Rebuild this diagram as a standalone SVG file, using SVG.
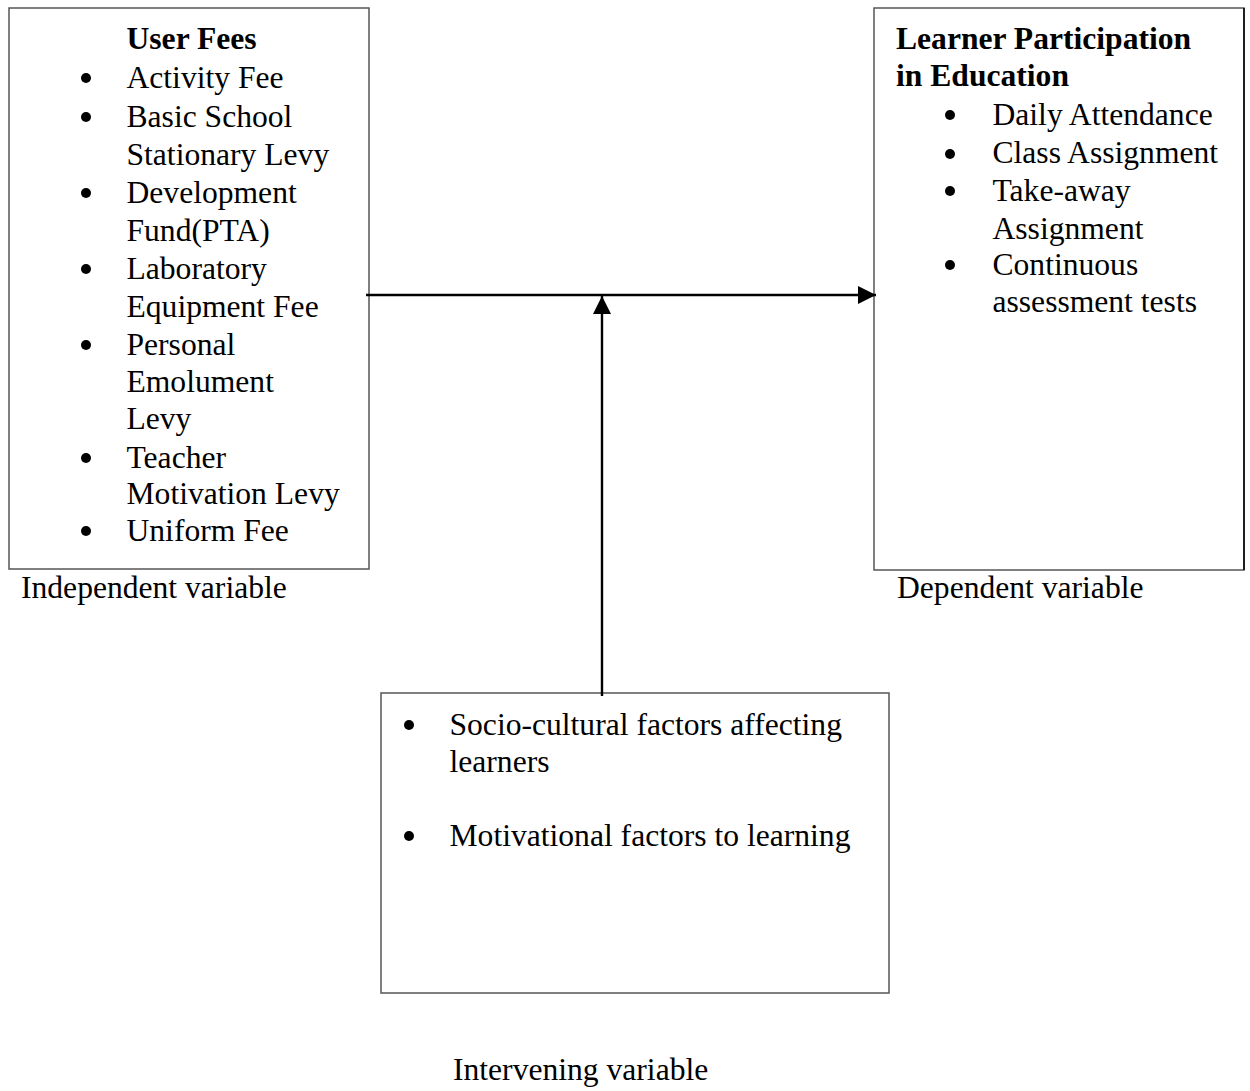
<svg xmlns="http://www.w3.org/2000/svg" width="1250" height="1091" viewBox="0 0 1250 1091">
<style>
  .box { fill: #fff; stroke: #555; stroke-width: 1.5; }
  .t { font-family: "Liberation Serif", "Times New Roman", serif; font-size: 31.6px; fill: #000; }
  .b { font-weight: bold; }
  .bul { fill: #000; }
  .conn { stroke: #000; stroke-width: 2.4; fill: none; }
</style>
<defs>
  <marker id="arr" markerUnits="userSpaceOnUse" markerWidth="18" markerHeight="18" viewBox="0 0 16 16" refX="16" refY="8" orient="auto">
    <path d="M0,0 L16,8 L0,16 Z" fill="#000"/>
  </marker>
</defs>
<rect width="1250" height="1091" fill="#fff"/>

<g id="independent">
  <rect class="box" x="9" y="8" width="360" height="561"/>
  <text class="t b" x="126.5" y="49">User Fees</text>
  <circle class="bul" cx="86" cy="78" r="5"/>
  <text class="t" x="126.5" y="88">Activity Fee</text>
  <circle class="bul" cx="86" cy="117" r="5"/>
  <text class="t" x="126.5" y="127">Basic School</text>
  <text class="t" x="126.5" y="165">Stationary Levy</text>
  <circle class="bul" cx="86" cy="193" r="5"/>
  <text class="t" x="126.5" y="203">Development</text>
  <text class="t" x="126.5" y="241">Fund(PTA)</text>
  <circle class="bul" cx="86" cy="269" r="5"/>
  <text class="t" x="126.5" y="279">Laboratory</text>
  <text class="t" x="126.5" y="317">Equipment Fee</text>
  <circle class="bul" cx="86" cy="345" r="5"/>
  <text class="t" x="126.5" y="355">Personal</text>
  <text class="t" x="126.5" y="392">Emolument</text>
  <text class="t" x="126.5" y="429">Levy</text>
  <circle class="bul" cx="86" cy="458" r="5"/>
  <text class="t" x="126.5" y="468">Teacher</text>
  <text class="t" x="126.5" y="504">Motivation Levy</text>
  <circle class="bul" cx="86" cy="531" r="5"/>
  <text class="t" x="126.5" y="541">Uniform Fee</text>
  <text class="t" x="21" y="598">Independent variable</text>
</g>

<g id="dependent">
  <rect class="box" x="874" y="8" width="370" height="562"/>
  <line x1="1244" y1="8" x2="1244" y2="570" stroke="#000" stroke-width="1.5"/>
  <text class="t b" x="896" y="49">Learner Participation</text>
  <text class="t b" x="896" y="86">in Education</text>
  <circle class="bul" cx="950" cy="115" r="5"/>
  <text class="t" x="992.5" y="125">Daily Attendance</text>
  <circle class="bul" cx="950" cy="154" r="5"/>
  <text class="t" x="992.5" y="163">Class Assignment</text>
  <circle class="bul" cx="950" cy="191" r="5"/>
  <text class="t" x="992.5" y="201">Take-away</text>
  <text class="t" x="992.5" y="239">Assignment</text>
  <circle class="bul" cx="950" cy="265" r="5"/>
  <text class="t" x="992.5" y="275">Continuous</text>
  <text class="t" x="992.5" y="312">assessment tests</text>
  <text class="t" x="897" y="598">Dependent variable</text>
</g>

<g id="intervening">
  <rect class="box" x="381" y="693" width="508" height="300"/>
  <circle class="bul" cx="409" cy="725" r="5"/>
  <text class="t" x="449.5" y="735">Socio-cultural factors affecting</text>
  <text class="t" x="449.5" y="772">learners</text>
  <circle class="bul" cx="409" cy="836" r="5"/>
  <text class="t" x="449.5" y="846">Motivational factors to learning</text>
  <text class="t" x="453" y="1080">Intervening variable</text>
</g>

<g id="connectors">
  <line class="conn" x1="366" y1="295" x2="876" y2="295" marker-end="url(#arr)"/>
  <line class="conn" x1="602" y1="696" x2="602" y2="296" marker-end="url(#arr)"/>
</g>
</svg>
